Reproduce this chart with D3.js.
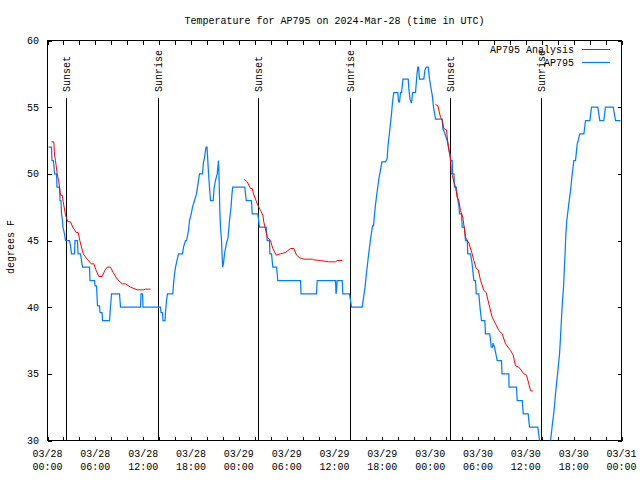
<!DOCTYPE html>
<html><head><meta charset="utf-8">
<script src="https://cdn.jsdelivr.net/npm/d3@7"></script>
<style>
body{margin:0;background:#fff;}
svg text{font-family:"Liberation Mono","DejaVu Sans Mono",monospace;font-size:10px;fill:#000;}
</style></head>
<body><svg id="c" width="640" height="480"></svg>
<script>
const titleText = "Temperature for AP795 on 2024-Mar-28 (time in UTC)";
const yLabel = "degrees F";
const seriesNames = ["AP795 Analysis", "AP795"];
const seriesColors = ["#ff0000", "#0080ff"];
const yTicks = [30, 35, 40, 45, 50, 55, 60];
const xLabelHours = [0, 6, 12, 18, 24, 30, 36, 42, 48, 54, 60, 66, 72];
const sunNames = ["Sunset", "Sunrise", "Sunset", "Sunrise", "Sunset", "Sunrise"];
const sunHours = [2.30, 13.84, 26.38, 37.92, 50.47, 61.91];

// AP795 observations: hours since 2024-03-28 00:00 UTC, temperature in F
const obsHours = [0.13,0.50,0.56,0.75,0.88,1.13,1.19,1.51,1.57,1.69,1.76,1.88,1.94,2.13,2.26,2.63,2.76,2.89,3.01,3.39,3.45,3.76,3.83,4.14,4.26,4.39,5.27,5.33,5.90,5.96,6.15,6.27,6.52,6.59,6.84,6.90,7.78,7.90,8.03,9.03,9.16,11.67,11.73,11.92,11.98,12.29,
14.17,14.24,14.43,14.49,14.74,14.80,14.93,15.05,15.72,15.81,15.93,16.06,16.43,16.93,17.06,17.31,17.44,17.69,17.81,18.03,18.19,18.44,18.69,18.82,18.94,19.07,19.44,19.57,19.69,19.88,20.01,20.07,20.20,20.32,20.45,20.79,20.89,21.07,21.29,21.45,21.51,21.61,21.70,21.83,21.89,21.98,22.08,22.20,22.45,22.64,22.83,23.02,23.14,23.24,24.75,24.93,25.59,25.68,26.38,26.59,27.43,27.56,27.85,27.89,28.10,28.26,28.73,28.89,31.74,31.80,33.74,33.83,36.13,36.19,36.25,36.34,36.97,37.04,37.88,38.01,38.13,39.48,39.64,39.83,40.02,40.27,40.52,40.77,40.89,41.11,41.33,41.56,41.77,41.94,42.40,42.59,42.71,42.90,43.15,43.28,43.44,43.94,44.03,44.16,44.28,44.41,44.59,45.25,45.32,45.47,45.66,45.79,46.16,46.35,46.45,46.54,46.66,47.20,47.35,47.50,47.76,47.92,48.11,48.26,48.42,48.67,49.51,49.59,49.80,50.14,50.47,
50.55,50.77,50.80,50.99,51.05,51.27,51.43,51.62,51.68,51.93,52.02,52.31,52.43,52.65,52.72,53.06,53.25,53.48,53.69,53.78,54.10,54.25,54.38,54.44,54.86,54.94,55.48,55.66,55.82,55.88,56.07,56.41,56.95,57.01,57.87,57.89,58.83,58.92,59.55,59.67,60.30,60.46,61.50,61.72,61.84,62.85,63.10,63.29,63.54,63.72,63.98,64.23,64.35,64.48,64.60,64.73,64.82,64.94,65.02,65.14,65.39,65.61,65.82,66.02,66.23,66.45,66.61,66.77,67.28,67.49,68.03,68.24,69.03,69.28,69.78,69.99,70.96,71.25,71.88];
const obsTemps = [52,52,51,51,50,50,49,49,48,48,47,46.5,46,45.5,45,45,45,44.6,44,44,45,45,44,44,43.5,43,43,42,42,41.6,41.6,40.1,40.1,39.6,39.6,39,39,40,41,41,40,40,41,41,40,40,
40,39.6,39.6,39,39,39.6,40.5,41,41,41.75,42.5,43,44,44,44.5,45,45,45.75,46.5,47,47.5,48,48.5,49,49.5,50,50,50.9,51.2,52,52,51.4,50,49,48,48,48.9,49.5,50,51,50,47.3,46,45,44,43,43.3,44,44.8,45.2,46.5,47.5,48.5,49,49,48,48,47,47,46,46,45,45,44,44,43,43,42,42,41,41,42,42,41,41.2,42,42,41,41,40.5,40,40,40.7,41.5,42.6,43.9,45.1,46.1,46.1,47.5,48.6,49.6,50.3,50.9,50.9,51.1,52.1,53.1,54.5,55.4,56.1,56.1,55.4,55.4,56.1,56.1,57.1,57.1,56.4,55.6,55.3,56.1,56.1,57.5,58,58,57.1,57.1,57.8,58,58,57.1,56.4,55.9,55,54.1,54.1,53.4,53.1,52.5,51.4,
51,51,50,50,49,49,48.2,47.5,47,47,46,46,45,45,44,44,43.3,42,42,41,41,40,39.3,39,39,38,38,37,37,37.3,37,36,36,35,35,34,34,33,33,32,32,31,31,30,29.6,29.6,30,31,32.25,33.5,35,36.5,37.75,39.25,40.5,41.5,42.75,44.25,45.5,46.5,47.75,48.75,50,51,51,52.25,52.6,53,53,54,54,55,55,54,54,55,55,54,54];

// AP795 Analysis: three runs, separated by null
const anaHours = [0.50,0.79,0.88,1.00,1.22,1.42,1.63,1.84,1.97,2.26,2.55,2.89,3.17,3.60,3.85,4.05,4.48,4.98,5.48,5.81,6.11,6.44,6.86,7.19,7.49,7.90,8.24,8.74,9.37,9.78,10.41,11.25,12.08,12.29,12.92,
null,
24.63,25.05,25.47,25.68,25.84,26.31,26.72,27.01,27.13,27.56,27.97,28.26,28.69,29.23,29.86,30.48,30.90,31.24,31.65,32.15,33.21,33.41,34.25,35.29,36.13,36.34,36.97,
null,
48.67,48.96,49.30,49.51,49.71,50.05,50.14,50.34,50.55,50.64,50.77,50.97,51.18,51.39,51.59,51.80,52.09,52.43,52.85,53.27,53.48,53.78,54.03,54.32,54.73,55.03,55.36,55.78,56.20,56.61,57.04,57.45,58.08,58.42,58.70,59.12,59.75,60.09,60.37,60.59,60.88];
const anaTemps = [52.4,52.4,51.4,51,50,49.4,48.4,48.4,47.9,46.9,46.4,46.4,46,45.6,45.6,45,44,43.6,43.25,43.25,42.75,42.3,42.3,42.75,43,43,42.6,42.1,41.75,41.75,41.5,41.3,41.3,41.35,41.35,
null,
49.6,49.4,48.9,48.9,48.5,47.75,47.25,46.9,46.4,45.25,45,44.4,43.9,44,44.1,44.4,44.4,43.9,43.7,43.6,43.6,43.55,43.5,43.4,43.4,43.5,43.5,
null,
55.2,55.1,54.25,54,53.4,53.3,52.75,51.8,51.3,50.1,49.9,49.4,49,48.25,48,47.25,46.75,45.25,44.8,44,43.5,42.9,42.8,42,41.25,41.1,40.25,39.25,38.75,38.25,38,37.25,36.75,36.4,35.6,35.5,35,34.9,34.25,33.75,33.7];

const t0 = Date.UTC(2024, 2, 28, 0, 0);
const toDate = h => new Date(t0 + h * 3600e3);

const svg = d3.select("#c");
const L = 47.5, R = 621.5, T = 40.5, B = 440.5;
const x = d3.scaleUtc().domain([toDate(0), toDate(72)]).range([L, R]);
const y = d3.scaleLinear().domain([30, 60]).range([B, T]);

svg.append("defs").append("clipPath").attr("id", "clip")
  .append("rect").attr("x", L).attr("y", T).attr("width", R - L).attr("height", B - T);

// title
svg.append("text").attr("x", (L + R) / 2).attr("y", 24).attr("text-anchor", "middle").text(titleText);
// y label
svg.append("text").attr("transform", "translate(14,247) rotate(-90)").attr("text-anchor", "middle").text(yLabel);

// ticks (every 2 hours, inward) via d3 axes
const tickDates = d3.range(0, 73, 2).map(toDate);
const axB = d3.axisBottom(x).tickValues(tickDates).tickSizeInner(-4).tickSizeOuter(0).tickFormat("");
const axT = d3.axisTop(x).tickValues(tickDates).tickSizeInner(-4).tickSizeOuter(0).tickFormat("");
const axL = d3.axisLeft(y).tickValues(yTicks).tickSizeInner(-4).tickSizeOuter(0).tickFormat("");
const axR = d3.axisRight(y).tickValues(yTicks).tickSizeInner(-4).tickSizeOuter(0).tickFormat("");
[[axB, `translate(0,${B})`], [axT, `translate(0,${T})`], [axL, `translate(${L},0)`], [axR, `translate(${R},0)`]].forEach(([a, tr]) => {
  const g = svg.append("g").attr("transform", tr).call(a);
  g.select(".domain").remove();
  g.selectAll(".tick line").attr("stroke", "#000").attr("shape-rendering", "crispEdges");
});

// x labels
const fmtD = d3.utcFormat("%m/%d"), fmtT = d3.utcFormat("%H:%M");
const xl = svg.append("g").selectAll("text").data(xLabelHours.map(toDate)).join("text")
  .attr("text-anchor", "middle").attr("x", d => x(d));
xl.append("tspan").attr("x", d => x(d)).attr("y", 457).text(d => fmtD(d));
xl.append("tspan").attr("x", d => x(d)).attr("y", 470).text(d => fmtT(d));

// y labels
svg.append("g").selectAll("text").data(yTicks).join("text")
  .attr("x", 39).attr("y", d => y(d) + 3.5).attr("text-anchor", "end").text(d => d);

// border
svg.append("rect").attr("x", L).attr("y", T).attr("width", R - L).attr("height", B - T)
  .attr("fill", "none").attr("stroke", "#000").attr("shape-rendering", "crispEdges");

// sunrise / sunset lines
const sg = svg.append("g").selectAll("g").data(sunHours.map((h, i) => ({h, n: sunNames[i]}))).join("g");
sg.append("line").attr("x1", d => Math.round(x(toDate(d.h))) + 0.5).attr("x2", d => Math.round(x(toDate(d.h))) + 0.5)
  .attr("y1", 98).attr("y2", B).attr("stroke", "#000").attr("stroke-width", 1).attr("shape-rendering", "crispEdges");
sg.append("text").attr("transform", d => `translate(${x(toDate(d.h)) + 4},92) rotate(-90)`).text(d => d.n);

// series
const obs = obsHours.map((h, i) => ({t: toDate(h), v: obsTemps[i]}));
const ana = anaHours.map((h, i) => ({t: h == null ? null : toDate(h), v: anaTemps[i]}));
const line = d3.line().defined(d => d.t != null && d.v != null).x(d => x(d.t)).y(d => y(d.v));
const pg = svg.append("g").attr("clip-path", "url(#clip)");
pg.append("path").datum(obs).attr("d", line).attr("fill", "none").attr("stroke", seriesColors[1]).attr("stroke-width", 1.25);
pg.append("path").datum(ana).attr("d", line).attr("fill", "none").attr("stroke", seriesColors[0]).attr("stroke-width", 1);

// legend
const lg = svg.append("g");
seriesNames.forEach((n, i) => {
  const yy = 49.5 + i * 13;
  lg.append("text").attr("x", 574).attr("y", yy + 3.5).attr("text-anchor", "end").text(n);
  lg.append("line").attr("x1", 582).attr("x2", 610).attr("y1", yy).attr("y2", yy)
    .attr("stroke", seriesColors[i]).attr("stroke-width", i ? 1.25 : 1);
});
</script></body></html>
